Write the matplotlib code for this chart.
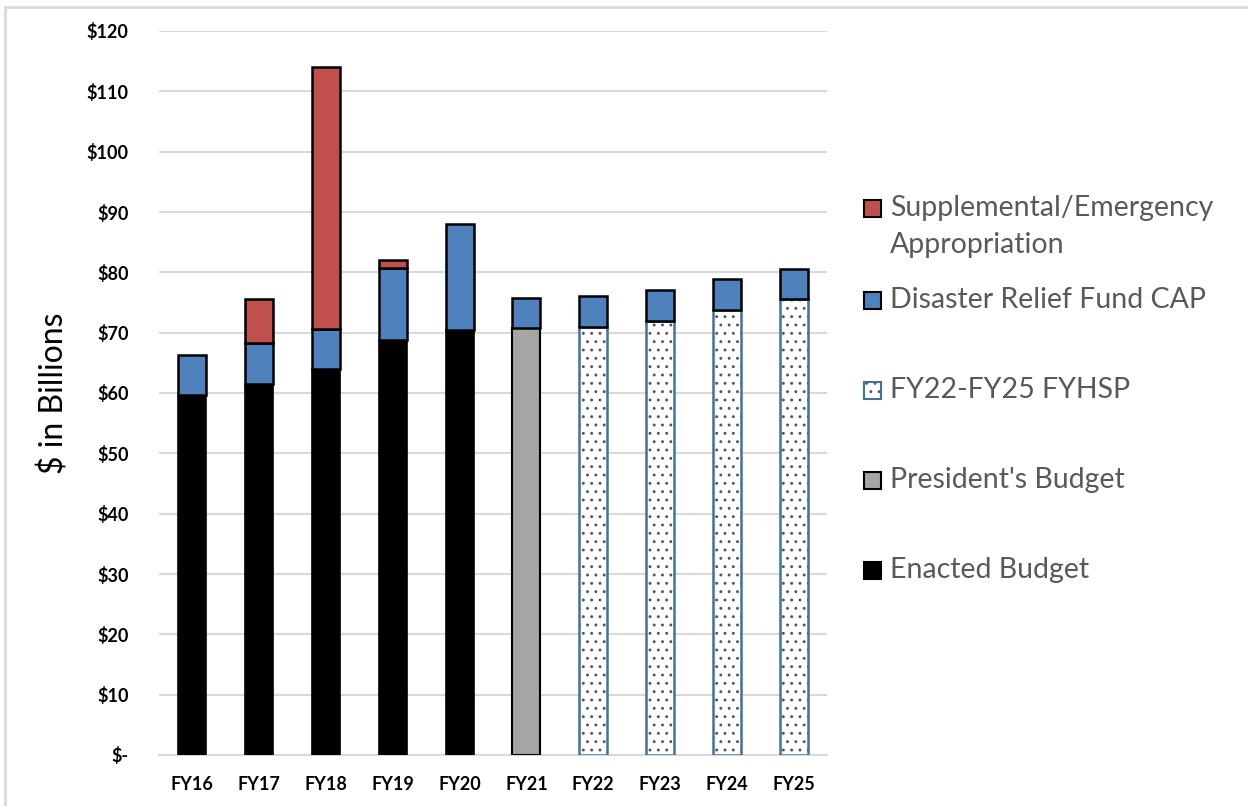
import matplotlib.pyplot as plt
from matplotlib.patches import Rectangle
import numpy as np

plt.rcParams['font.family'] = ['Lato', 'DejaVu Sans']
plt.rcParams['hatch.linewidth'] = 0.9

years = ["FY16", "FY17", "FY18", "FY19", "FY20", "FY21", "FY22", "FY23", "FY24", "FY25"]
enacted = [59.7, 61.5, 64.0, 68.8, 70.5, 0, 0, 0, 0, 0]
president = [0, 0, 0, 0, 0, 70.8, 0, 0, 0, 0]
fyhsp = [0, 0, 0, 0, 0, 0, 71.0, 72.0, 73.8, 75.5]
drf_cap = [6.6, 6.8, 6.6, 11.9, 17.5, 5.0, 5.0, 5.0, 5.1, 5.0]
supplemental = [0, 7.2, 43.4, 1.3, 0, 0, 0, 0, 0, 0]

labels = ["Supplemental/Emergency\nAppropriation", "Disaster Relief Fund CAP",
          "FY22-FY25 FYHSP", "President's Budget", "Enacted Budget"]

RED = "#C0504D"
BLUE = "#4F81BD"
GRAY = "#A5A5A5"
EDGE_BLUE = "#41719C"
DOTS = "#555555"

fig = plt.figure(figsize=(12.48, 8.06), dpi=100)
ax = fig.add_axes([159 / 1248, 1 - 755 / 806, (827 - 159) / 1248, (755 - 31) / 806])

x = np.arange(len(years))
w = 0.42
enacted = np.array(enacted)
president = np.array(president)
fyhsp = np.array(fyhsp)
drf_cap = np.array(drf_cap)
supplemental = np.array(supplemental)
has = lambda a: a > 0

ax.bar(x[has(enacted)], enacted[has(enacted)], w, color="black", edgecolor="black", lw=1.2, zorder=3)
ax.bar(x[has(president)], president[has(president)], w, color=GRAY, edgecolor="black", lw=1.5, zorder=3)
# dotted FYHSP bars: hatch drawn in dark grey, outline in blue
ax.bar(x[has(fyhsp)], fyhsp[has(fyhsp)], w, color="white", edgecolor=DOTS, hatch="..", lw=0, zorder=3)
ax.bar(x[has(fyhsp)], fyhsp[has(fyhsp)], w, fill=False, edgecolor=EDGE_BLUE, lw=1.8, zorder=4)
base = enacted + president + fyhsp
ax.bar(x, drf_cap, w, bottom=base, color=BLUE, edgecolor="black", lw=1.8, zorder=5)
base2 = base + drf_cap
m = has(supplemental)
ax.bar(x[m], supplemental[m], w, bottom=base2[m], color=RED, edgecolor="black", lw=1.8, zorder=5)

ax.set_xlim(-0.5, 9.5)
ax.set_ylim(0, 120)
ax.set_yticks(np.arange(0, 121, 10))
ax.set_yticklabels(["$-"] + [f"${v}" for v in range(10, 121, 10)])
ax.set_xticks(x)
ax.set_xticklabels(years)
for lab in ax.get_xticklabels() + ax.get_yticklabels():
    lab.set_fontweight("bold")
    lab.set_fontsize(13)
    lab.set_color("black")
ax.tick_params(axis="both", length=0)
ax.tick_params(axis="y", pad=22)
ax.tick_params(axis="x", pad=15)
ax.grid(axis="y", color="#D9D9D9", lw=1.5, zorder=0)
for s in ["top", "right", "left"]:
    ax.spines[s].set_visible(False)
ax.spines["bottom"].set_color("#D9D9D9")
ax.spines["bottom"].set_linewidth(1.5)
ax.set_ylabel("$ in Billions", fontsize=23, labelpad=12)

# legend, drawn by hand to match the spaced-out layout
leg_face = [RED, BLUE, "white", GRAY, "black"]
leg_edge = ["black", "black", EDGE_BLUE, "black", "black"]
leg_hatch = [None, None, "..", None, None]
leg_text_y = [208, 300, 390, 480, 570]
for lab, ty, fc, ec, h in zip(labels, leg_text_y, leg_face, leg_edge, leg_hatch):
    r = Rectangle((864 / 1248, 1 - (ty + 9) / 806), 17 / 1248, 17 / 806,
                  transform=fig.transFigure, facecolor=fc, edgecolor=ec if h is None else DOTS,
                  lw=1.5 if h is None else 0, hatch=h)
    fig.add_artist(r)
    if h:
        fig.add_artist(Rectangle((864 / 1248, 1 - (ty + 9) / 806), 17 / 1248, 17 / 806,
                                 transform=fig.transFigure, fill=False, edgecolor=ec, lw=1.5))
    lines = lab.split("\n")
    for k, line in enumerate(lines):
        fig.text(890 / 1248, 1 - (ty + 37 * k) / 806, line, fontsize=20.5, color="#595959",
                 va="center", ha="left")

# light frame round the chart
fig.add_artist(Rectangle((5 / 1248, -0.05), 1.1, 1 - 7 / 806 + 0.05, transform=fig.transFigure,
                         fill=False, edgecolor="#D9D9D9", lw=2))

plt.savefig("out.png", dpi=100)
